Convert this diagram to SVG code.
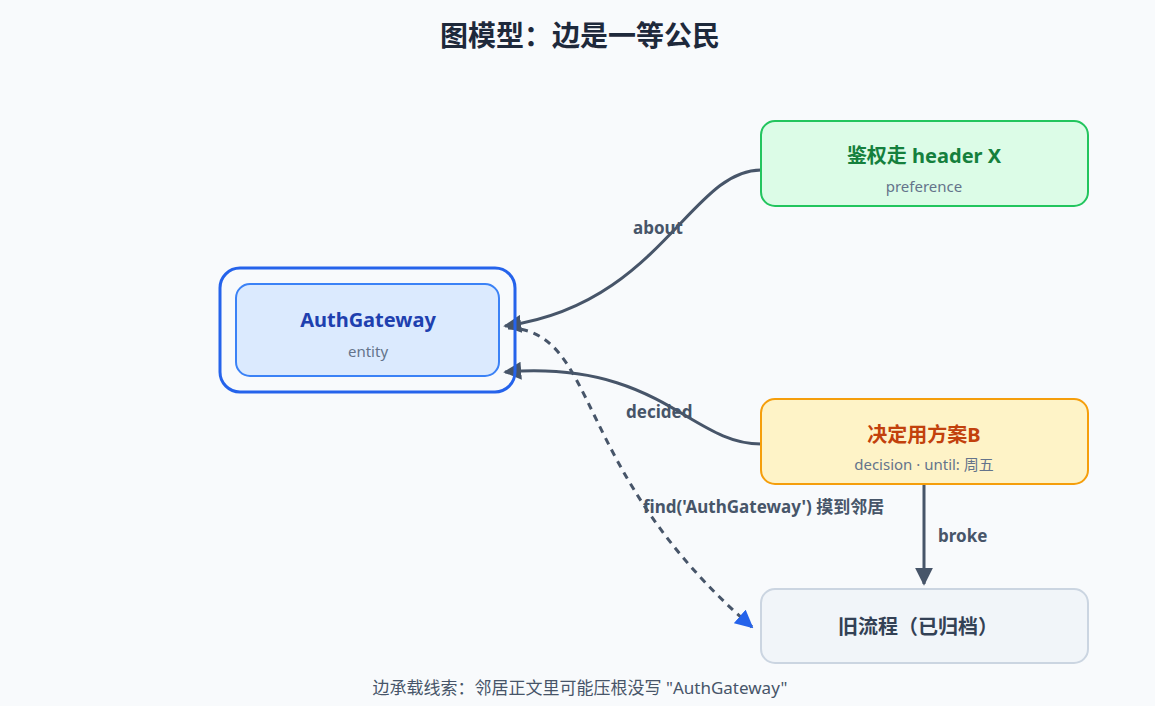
<svg xmlns="http://www.w3.org/2000/svg" width="1155" height="706" viewBox="0 0 1155 706">
<style>
text{font-family:"Noto Sans","Noto Sans CJK SC",sans-serif}
.t{font-weight:bold;font-size:20px;text-anchor:middle}
.s{font-size:15px;fill:#64748b;text-anchor:middle}
.e{fill:none;stroke:#475569;stroke-width:3}
.l{font-size:17px;font-weight:bold;fill:#475569}
</style>
<defs>
<marker id="a" viewBox="0 0 10 10" refX="9" refY="5" markerWidth="6" markerHeight="6" orient="auto"><path d="M0,0L10,5L0,10z" fill="#475569"/></marker>
<marker id="b" viewBox="0 0 10 10" refX="9" refY="5" markerWidth="6" markerHeight="6" orient="auto"><path d="M0,0L10,5L0,10z" fill="#2563eb"/></marker>
</defs>
<rect width="1155" height="706" fill="#f8fafc"/>
<text x="580" y="46" style="font-size:28px;font-weight:bold;fill:#1e293b;text-anchor:middle">图模型：边是一等公民</text>
<g id="connectors">
<path class="e" d="M761,170 C690,170 660,305 505,326" marker-end="url(#a)"/>
<path class="e" d="M761,444 C690,444 660,360 505,372" marker-end="url(#a)"/>
<path class="e" d="M924,484 L924,584" marker-end="url(#a)"/>
<path class="e" d="M508,328 C600,330 570,470 752,627" stroke-dasharray="7,6" marker-end="url(#b)"/>
<text class="l" x="633" y="234">about</text>
<text class="l" x="626" y="418">decided</text>
<text class="l" x="643" y="513">find('AuthGateway') 摸到邻居</text>
<text class="l" x="938" y="542">broke</text>
</g>
<g id="authgateway">
<rect x="220" y="268" width="295" height="124" rx="20" fill="none" stroke="#2563eb" stroke-width="3"/>
<rect x="236" y="284" width="263" height="92" rx="14" fill="#dbeafe" stroke="#3b82f6" stroke-width="2"/>
<text class="t" x="368" y="327" fill="#1e40af">AuthGateway</text>
<text class="s" x="368" y="357">entity</text>
</g>
<g id="pref">
<rect x="761" y="121" width="327" height="85" rx="14" fill="#dcfce7" stroke="#22c55e" stroke-width="2"/>
<text class="t" x="924" y="163" fill="#15803d">鉴权走 header X</text>
<text class="s" x="924" y="192">preference</text>
</g>
<g id="decision">
<rect x="761" y="399" width="327" height="85" rx="14" fill="#fef3c7" stroke="#f59e0b" stroke-width="2"/>
<text class="t" x="924" y="442" fill="#c2410c">决定用方案B</text>
<text class="s" x="924" y="470">decision · until: 周五</text>
</g>
<g id="old">
<rect x="761" y="589" width="327" height="74" rx="14" fill="#f1f5f9" stroke="#cbd5e1" stroke-width="2"/>
<text class="t" x="918" y="634" fill="#334155">旧流程（已归档）</text>
</g>
<text x="580" y="694" style="font-size:17px;fill:#475569;text-anchor:middle">边承载线索：邻居正文里可能压根没写 "AuthGateway"</text>
</svg>
